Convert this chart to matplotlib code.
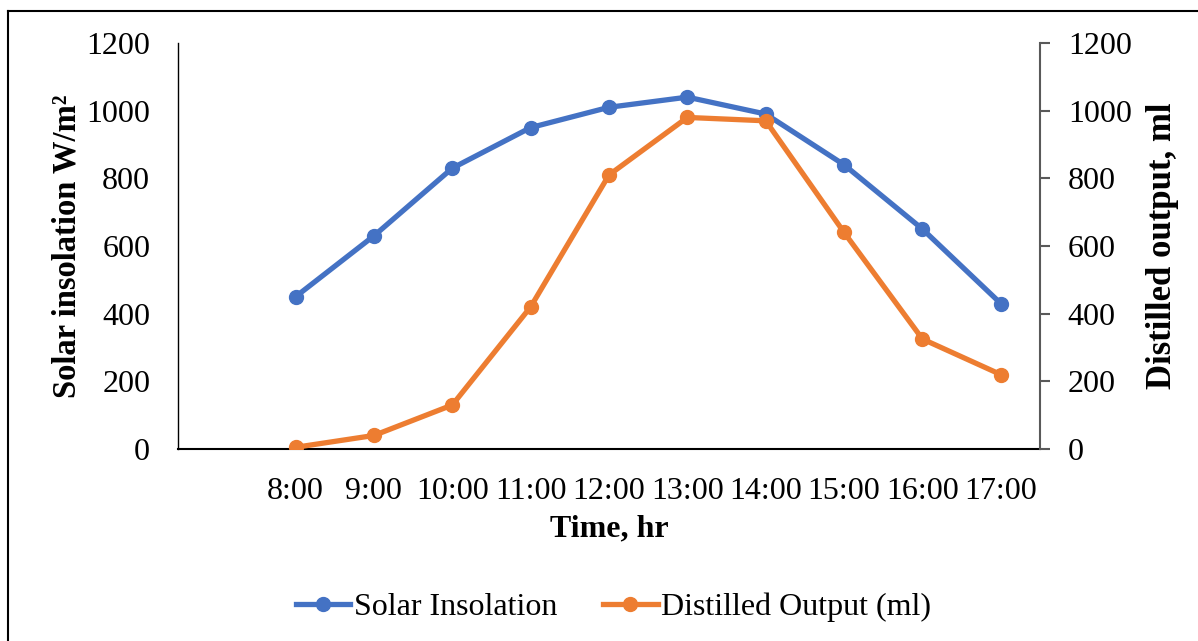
import matplotlib
matplotlib.use("Agg")
import matplotlib.pyplot as plt
from matplotlib.lines import Line2D

times = ["", "8:00", "9:00", "10:00", "11:00", "12:00", "13:00", "14:00", "15:00", "16:00", "17:00"]
solar = [None, 450, 630, 830, 950, 1010, 1040, 990, 840, 650, 430]
distilled = [None, 5, 40, 130, 420, 810, 980, 970, 640, 325, 220]
yticks = [0, 200, 400, 600, 800, 1000, 1200]

plt.rcParams['font.family'] = ['Liberation Serif', 'DejaVu Serif']
FS = 23

fig = plt.figure(figsize=(11.98, 6.41), dpi=100)
ax = fig.add_axes([178/1198, 1-449/641, (1040-178)/1198, (449-43)/641])
ax2 = ax.twinx()

idx = list(range(len(times)))
sx = [i for i, v in zip(idx, solar) if v is not None]
sv = [v for v in solar if v is not None]
dx = [i for i, v in zip(idx, distilled) if v is not None]
dv = [v for v in distilled if v is not None]

blue = '#4472C4'
orange = '#ED7D31'
ax.plot(sx, sv, color=blue, lw=3.8, marker='o', ms=10, label='Solar Insolation', zorder=3)
ax2.plot(dx, dv, color=orange, lw=3.8, marker='o', ms=10, label='Distilled Output (ml)', zorder=3)

for a in (ax, ax2):
    a.set_xlim(-0.5, len(times) - 0.5)
    a.set_ylim(0, 1200)
    a.set_yticks(yticks)
    a.spines['top'].set_visible(False)
    a.tick_params(axis='both', labelsize=FS)

ax.set_xticks(idx)
ax.set_xticklabels(times)
ax.tick_params(axis='x', length=0, pad=20)
ax.tick_params(axis='y', length=0, pad=20)
ax.spines['left'].set_color('black')
ax.spines['left'].set_linewidth(1.0)
ax.spines['bottom'].set_color('black')
ax.spines['bottom'].set_linewidth(1.5)
ax.spines['right'].set_visible(False)

ax2.spines['left'].set_visible(False)
ax2.spines['bottom'].set_visible(False)
ax2.spines['right'].set_color('#595959')
ax2.spines['right'].set_linewidth(1.5)
ax2.tick_params(axis='y', direction='out', length=7, width=1.5, color='#595959', pad=13)

ax.set_ylabel('Solar insolation W/m²', fontsize=23.5, fontweight='bold', labelpad=3)
ax2.set_ylabel('Distilled output, ml', fontsize=25, fontweight='bold', labelpad=10)
ax.set_xlabel('Time, hr', fontsize=FS, fontweight='bold', labelpad=6)

handles = [Line2D([], [], color=blue, lw=3.8, marker='o', ms=10),
           Line2D([], [], color=orange, lw=3.8, marker='o', ms=10)]
fig.legend(handles, ['Solar Insolation', 'Distilled Output (ml)'], loc='center',
           bbox_to_anchor=(0.512, 1-607/641), ncol=2, frameon=False, fontsize=FS,
           handlelength=1.7, handletextpad=0.1, columnspacing=1.45)

# outer frame
fig.add_artist(Line2D([8/1198, 1.0], [1-11/641, 1-11/641], transform=fig.transFigure, color='black', lw=1.5))
fig.add_artist(Line2D([8/1198, 8/1198], [0, 1-11/641], transform=fig.transFigure, color='black', lw=1.5))

fig.savefig('out.png', dpi=100)
